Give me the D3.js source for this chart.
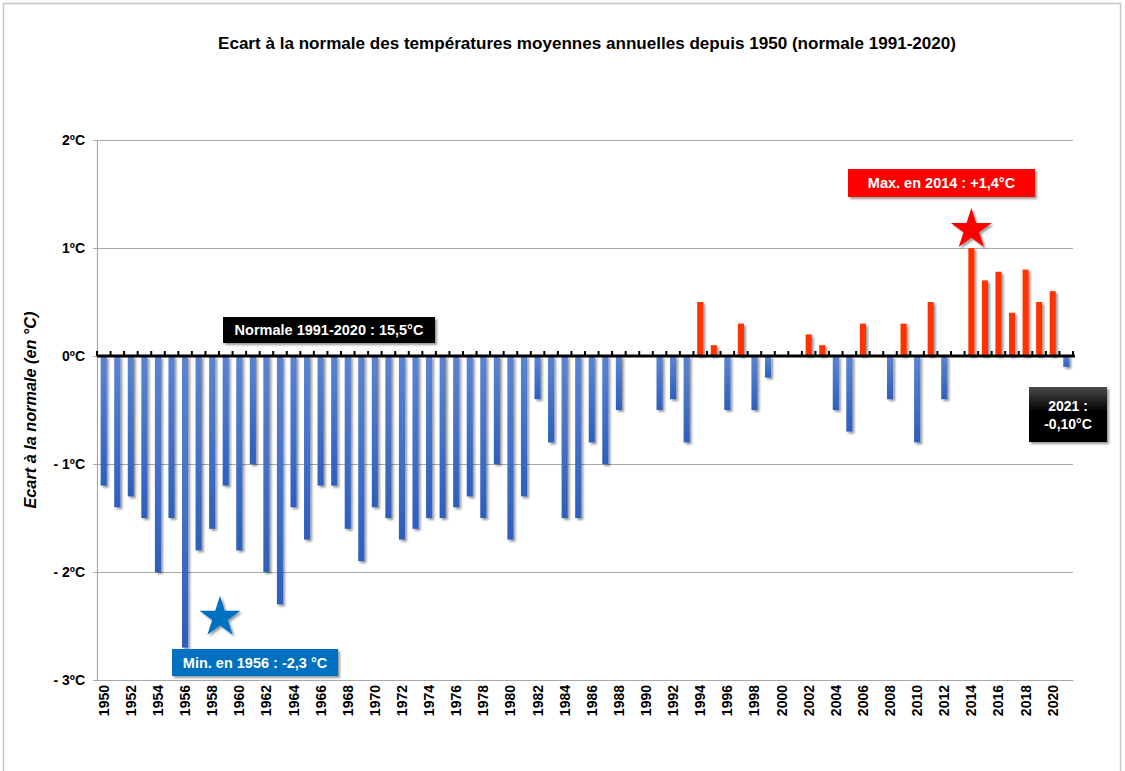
<!DOCTYPE html>
<html>
<head>
<meta charset="utf-8">
<script src="https://cdn.jsdelivr.net/npm/d3@7"></script>
<style>
  body { margin: 0; background: #fff; }
  svg { display: block; font-family: "Liberation Sans", Arial, sans-serif; }
</style>
</head>
<body>
<svg id="chart" width="1125" height="771"></svg>
<script>
const years = d3.range(1950, 2022);
const anomalies = [
  -1.2, -1.4, -1.3, -1.5, -2.0, -1.5, -2.7, -1.8, -1.6, -1.2,
  -1.8, -1.0, -2.0, -2.3, -1.4, -1.7, -1.2, -1.2, -1.6, -1.9,
  -1.4, -1.5, -1.7, -1.6, -1.5, -1.5, -1.4, -1.3, -1.5, -1.0,
  -1.7, -1.3, -0.4, -0.8, -1.5, -1.5, -0.8, -1.0, -0.5, 0,
  0, -0.5, -0.4, -0.8, 0.5, 0.1, -0.5, 0.3, -0.5, -0.2,
  0, 0, 0.2, 0.1, -0.5, -0.7, 0.3, 0, -0.4, 0.3,
  -0.8, 0.5, -0.4, 0, 1.0, 0.7, 0.78, 0.4, 0.8, 0.5,
  0.6, -0.1
];
const yTicks = [2, 1, 0, -1, -2, -3];
const yTickLabels = ["2ºC", "1ºC", "0ºC", "- 1ºC", "- 2ºC", "- 3ºC"];
const xTickYears = years.filter(d => d % 2 === 0 && d <= 2020);

const data = years.map((yr, i) => ({ year: yr, value: anomalies[i] }));

const svg = d3.select("#chart");
const plot = { left: 97, right: 1073, top: 140, bottom: 680 };

const x = d3.scaleBand().domain(years).range([plot.left, plot.right]).paddingInner(0.55).paddingOuter(0.27);
const xb = d3.scaleBand().domain(years).range([plot.left, plot.right]);
const y = d3.scaleLinear().domain([-3, 2]).range([plot.bottom, plot.top]);

const defs = svg.append("defs");
const gradBlue = defs.append("linearGradient").attr("id", "gBlue")
  .attr("x1", 0).attr("y1", 0).attr("x2", 0).attr("y2", 1);
gradBlue.append("stop").attr("offset", "0%").attr("stop-color", "#5b84d2");
gradBlue.append("stop").attr("offset", "100%").attr("stop-color", "#2c5fbe");

const gradBlack = defs.append("linearGradient").attr("id", "gBlack")
  .attr("x1", 0).attr("y1", 0).attr("x2", 0).attr("y2", 1);
gradBlack.append("stop").attr("offset", "0%").attr("stop-color", "#4a4a4a");
gradBlack.append("stop").attr("offset", "45%").attr("stop-color", "#000");
gradBlack.append("stop").attr("offset", "100%").attr("stop-color", "#000");

const shadow = defs.append("filter").attr("id", "shadow")
  .attr("x", "-50%").attr("y", "-20%").attr("width", "250%").attr("height", "150%");
shadow.append("feDropShadow").attr("dx", 2).attr("dy", 2).attr("stdDeviation", 1.3)
  .attr("flood-color", "#000").attr("flood-opacity", 0.4);

// cadre
svg.append("rect")
  .attr("x", 3.5).attr("y", 3.5).attr("width", 1117).attr("height", 820)
  .attr("fill", "none").attr("stroke", "#c8c8c8").attr("stroke-width", 1.5);

// titre
svg.append("text")
  .attr("x", 587).attr("y", 49)
  .attr("text-anchor", "middle")
  .attr("font-size", 16).attr("font-weight", "bold")
  .attr("textLength", 738).attr("lengthAdjust", "spacingAndGlyphs")
  .text("Ecart à la normale des températures moyennes annuelles depuis 1950 (normale 1991-2020)");

// grille
svg.append("g").selectAll("line")
  .data(yTicks.filter(d => d !== 0))
  .join("line")
  .attr("x1", plot.left).attr("x2", plot.right)
  .attr("y1", d => y(d) + 0.5).attr("y2", d => y(d) + 0.5)
  .attr("stroke", "#a9a9a9").attr("stroke-width", 1.2);

// axe y
const yAxis = svg.append("g")
  .attr("transform", `translate(${plot.left},0)`)
  .call(d3.axisLeft(y).tickValues(yTicks).tickSize(4).tickPadding(8)
    .tickFormat((d, i) => yTickLabels[i]));
yAxis.select(".domain").attr("stroke", "#a9a9a9").attr("stroke-width", 1.2);
yAxis.selectAll(".tick line").attr("stroke", "#a9a9a9");
yAxis.selectAll(".tick text")
  .attr("font-size", 14).attr("font-weight", "bold").attr("fill", "#000")
  .attr("font-family", "Liberation Sans, Arial, sans-serif");

svg.append("text")
  .attr("transform", `translate(36,410) rotate(-90)`)
  .attr("text-anchor", "middle")
  .attr("font-size", 16).attr("font-style", "italic").attr("font-weight", "bold")
  .attr("textLength", 197).attr("lengthAdjust", "spacingAndGlyphs")
  .text("Ecart à la normale (en °C)");

// axe x
const xAxis = svg.append("g")
  .attr("transform", `translate(0,${plot.bottom})`)
  .call(d3.axisBottom(xb).tickValues(xTickYears).tickSize(0).tickPadding(0));
xAxis.select(".domain").attr("stroke", "#a9a9a9").attr("stroke-width", 1.2);
xAxis.selectAll(".tick text")
  .attr("transform", "rotate(-90)")
  .attr("x", -5).attr("y", 0).attr("dy", "0.36em")
  .attr("text-anchor", "end")
  .attr("font-size", 14).attr("font-weight", "bold").attr("fill", "#000")
  .attr("font-family", "Liberation Sans, Arial, sans-serif");

// barres
svg.append("g").selectAll("rect")
  .data(data.filter(d => d.value !== 0))
  .join("rect")
  .attr("x", d => x(d.year))
  .attr("width", x.bandwidth())
  .attr("y", d => y(Math.max(0, d.value)))
  .attr("height", d => Math.abs(y(d.value) - y(0)))
  .attr("fill", d => d.value > 0 ? "#ff3300" : "url(#gBlue)")
  .attr("filter", "url(#shadow)");

// ligne de la normale
const zero = svg.append("g");
zero.append("line")
  .attr("x1", plot.left).attr("x2", plot.right + 2)
  .attr("y1", y(0)).attr("y2", y(0))
  .attr("stroke", "#000").attr("stroke-width", 3);
zero.selectAll(".tk")
  .data(years.concat([null]))
  .join("line")
  .attr("class", "tk")
  .attr("x1", d => d === null ? plot.right : xb(d))
  .attr("x2", d => d === null ? plot.right : xb(d))
  .attr("y1", y(0)).attr("y2", y(0) - 5)
  .attr("stroke", "#000").attr("stroke-width", 2);

// annotations
function label(x0, y0, w, h, fill, lines, fs) {
  const g = svg.append("g");
  g.append("rect").attr("x", x0).attr("y", y0).attr("width", w).attr("height", h)
    .attr("fill", fill).attr("filter", "url(#shadow)");
  const lh = fs + 4;
  const start = y0 + h / 2 - (lines.length - 1) * lh / 2;
  lines.forEach((t, i) => {
    g.append("text")
      .attr("x", x0 + w / 2).attr("y", start + i * lh)
      .attr("dy", "0.36em").attr("text-anchor", "middle")
      .attr("fill", "#fff").attr("font-size", fs).attr("font-weight", "bold")
      .text(t);
  });
}

label(223, 317, 212, 26, "#000", ["Normale 1991-2020 : 15,5°C"], 14.5);
label(848, 169, 187, 28, "#ff0000", ["Max. en 2014 : +1,4°C"], 14.5);
label(172, 649, 166, 27, "#0070c0", ["Min. en 1956 : -2,3 °C"], 14.5);
label(1029, 387, 78, 55, "url(#gBlack)", ["2021 :", "-0,10°C"], 14);

const star = d3.symbol().type(d3.symbolStar).size(520);
svg.append("path")
  .attr("d", star)
  .attr("transform", `translate(${xb(2014) + xb.bandwidth() / 2},${y(1.17)})`)
  .attr("fill", "#ff0000").attr("filter", "url(#shadow)");
svg.append("path")
  .attr("d", star)
  .attr("transform", `translate(220,${y(-2.42)})`)
  .attr("fill", "#0070c0").attr("filter", "url(#shadow)");
</script>
</body>
</html>
